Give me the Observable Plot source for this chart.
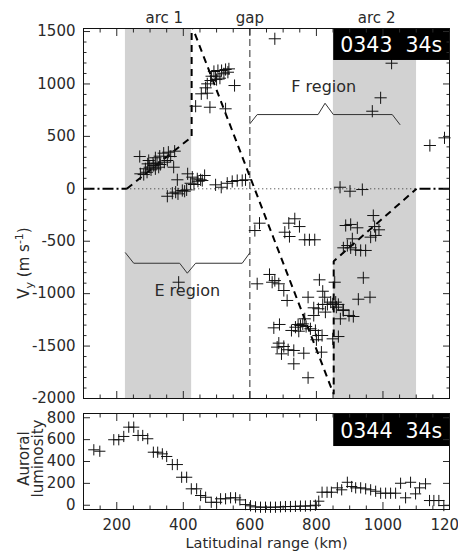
<!DOCTYPE html>
<html><head><meta charset="utf-8">
<script src="https://cdn.jsdelivr.net/npm/d3@7"></script>
<script src="https://cdn.jsdelivr.net/npm/@observablehq/plot@0.6"></script>
<style>
body{margin:0;background:#fff;}
#chart{width:458px;height:557px;position:relative;overflow:hidden;background:#fff}
#chart svg{display:block}
</style></head><body><div id="chart"></div>
<script>
// ---------- data ----------
// Top panel: ion drift velocity Vy (m/s) versus latitudinal range (km)
const velKm = [
  269,296,316,329,341,355,374,286,299,311,321,331,343,352,362,271,281,291,303,316,326,371,382,309,293,
  352,367,384,397,404,410,377,
  413,427,442,452,464,422,432,444,457,497,514,532,547,562,577,587,
  492,504,515,527,537,485,497,510,522,534,482,500,472,467,554,454,472,437,480,527,
  386,
  675,1026,993,968,1141,1185,871,901,938,971,
  615,629,717,735,749,705,719,765,779,795,622,659,667,675,687,702,712,809,775,819,825,792,806,819,833,843,849,858,866,827,792,855,880,872,765,672,689,725,737,745,752,747,759,769,782,797,806,800,817,849,866,687,682,702,715,695,732,762,815,732,775,
  888,903,923,988,975,908,963,978,881,893,903,918,933,948,941,961,926,860,881,898,911
];
const velMs = [
  308,270,296,311,340,349,359,191,206,222,244,232,254,270,308,143,136,158,181,191,206,206,86,244,238,
  -71,-42,-48,-16,-23,-10,-32,
  143,111,95,86,127,53,41,72,79,38,15,53,70,79,79,86,
  1119,1128,1128,1138,1144,1074,1074,1055,1097,1112,1033,1042,1001,963,985,906,912,788,778,763,
  -891,
  1431,1198,868,740,413,486,15,-23,-7,-255,
  -398,-328,-328,-286,-360,-414,-455,-486,-486,-486,-906,-817,-891,-875,-906,-970,-1065,-868,-1034,-977,-1034,-1135,-1144,-1103,-1103,-1081,-1097,-1081,-1103,-1176,-1208,-891,-1154,-1240,-1240,-1326,-1294,-1351,-1320,-1294,-1304,-1358,-1288,-1313,-1335,-1351,-1399,-1440,-1399,-1431,-1409,-1472,-1510,-1504,-1535,-1574,-1542,-1568,-1558,-1669,-1802,
  -350,-340,-372,-391,-360,-477,-461,-445,-563,-541,-563,-582,-588,-588,-849,-1034,-1053,-1129,-1161,-1208,-1218
];
// Bottom panel: auroral luminosity
const lumKm = [131,149,191,206,221,236,251,264,278,293,310,323,337,350,367,382,395,410,424,440,452,467,484,500,512,527,542,557,570,587,602,617,632,647,662,677,692,707,722,737,752,767,782,797,807,817,832,845,863,876,893,906,918,933,948,963,978,993,1008,1023,1038,1053,1068,1083,1098,1110,1128,1140,1153,1168,1183];
const lumVal = [507,494,599,599,629,714,714,638,638,608,485,485,470,446,372,372,256,256,150,150,89,73,27,27,59,59,68,68,49,6,-5,-15,-18,-18,-18,-18,-15,-12,-12,-10,-8,-8,-5,0,37,119,119,119,159,141,210,171,159,159,150,141,128,110,110,110,110,201,68,210,104,159,196,43,43,43,-3];

// arcs (shaded) and gap
const arcStartKm = [226, 851];
const arcEndKm = [425, 1101];
const gapKm = [600];
const topLabels = ["arc 1", "gap", "arc 2"];
const topLabelKm = [343, 600, 981];

// model velocity profile (dashed)
const modelKm = [100, 230, 425, 425, 852, 852, 1101, 1200];
const modelMs = [0, 0, 495, 1560, -1960, -690, 0, 0];

// region brackets
const eBracketKm = [226, 251, 389, 412, 437, 577, 600];
const eBracketMs = [-610, -710, -710, -805, -710, -710, -610];
const fBracketKm = [600, 622, 805, 826, 851, 1028, 1051];
const fBracketMs = [620, 708, 708, 816, 708, 708, 613];
const regionLabels = ["E region", "F region"];
const regionKm = [412, 822];
const regionMs = [-970, 969];

// time stamps
const stampText = ["0343  34s", "0344  34s"];
const stampKm = [852, 1200];
const stampTextKm = 1025;
const stampTopMs = [1224, 1529]; const stampTopTextMs = 1370;
const stampBotLum = [537, 839]; const stampBotTextLum = 676;

// axes
const xDomain = [100, 1200];
const vDomain = [-2000, 1529];
const lDomain = [-39, 839];
const majorX = [200, 400, 600, 800, 1000, 1200];
const minorX = d3.range(100, 1201, 50).filter(v => v % 200 !== 0);
const majorV = [-2000, -1500, -1000, -500, 0, 500, 1000, 1500];
const minorV = d3.range(-2000, 1501, 100).filter(v => v % 500 !== 0);
const majorL = [0, 200, 400, 600, 800];

// ---------- drawing ----------
const FONT = "'DejaVu Sans', sans-serif";
const INK = "#2a2a2a";
const fmt = d => (d < 0 ? "-" : "") + Math.abs(d);
const blank = () => "";
function tk(k, anchor, values, size, labelled, pad) {
  const axis = k === "x" ? Plot.axisX : Plot.axisY;
  return axis({anchor, ticks: values, tickSize: -size, tickPadding: pad || 0,
    tickFormat: labelled ? fmt : blank, label: null, stroke: INK, fill: INK, fontSize: 15});
}
const vi = d3.range(velKm.length);
const li = d3.range(lumKm.length);
const dashed = {stroke: "#000", strokeWidth: 2, strokeLinecap: "butt", strokeLinejoin: "miter"};

const topPlot = Plot.plot({
  width: 458, height: 400, marginLeft: 83, marginRight: 9, marginTop: 28, marginBottom: 2,
  style: {fontFamily: FONT, fontSize: "15px", color: INK, background: "white", overflow: "visible"},
  x: {domain: xDomain}, y: {domain: vDomain},
  marks: [
    Plot.rect(d3.range(arcStartKm.length), {x1: i => arcStartKm[i], x2: i => arcEndKm[i], fill: "#d2d2d2"}),
    Plot.ruleX(gapKm, {stroke: INK, strokeWidth: 1, strokeDasharray: "7,4"}),
    Plot.ruleY([0], {x1: modelKm[1], x2: modelKm[6], stroke: INK, strokeWidth: 1, strokeDasharray: "1,3"}),
    Plot.line([0, 1], {x: i => modelKm[i], y: i => modelMs[i], ...dashed, strokeDasharray: "11,3,2,3"}),
    Plot.line([7, 6], {x: i => modelKm[i], y: i => modelMs[i], ...dashed, strokeDasharray: "11,3,2,3"}),
    Plot.line([1, 2, 3, 4, 5, 6], {x: i => modelKm[i], y: i => modelMs[i], ...dashed, strokeDasharray: "7,5", clip: true}),
    Plot.line(d3.range(eBracketKm.length), {x: i => eBracketKm[i], y: i => eBracketMs[i], stroke: "#333", strokeWidth: 1}),
    Plot.line(d3.range(fBracketKm.length), {x: i => fBracketKm[i], y: i => fBracketMs[i], stroke: "#333", strokeWidth: 1}),
    Plot.text(regionLabels, {x: (d, i) => regionKm[i], y: (d, i) => regionMs[i], fontSize: 16, fill: INK}),
    Plot.dot(vi, {x: i => velKm[i], y: i => velMs[i], symbol: "plus", r: 4, stroke: "#111", strokeWidth: 1}),
    Plot.rect([0], {x1: stampKm[0], x2: stampKm[1], y1: stampTopMs[0], y2: stampTopMs[1], fill: "#000"}),
    Plot.text([stampText[0]], {x: stampTextKm, y: stampTopTextMs, fill: "white", fontSize: 20.5}),
    Plot.text(topLabels, {x: (d, i) => topLabelKm[i], frameAnchor: "top", dy: -16, fontSize: 15, fill: INK}),
    tk("y", "left", majorV, 7, true, 15),
    tk("y", "left", minorV, 3.5, false),
    tk("y", "right", majorV, 7, false),
    tk("y", "right", minorV, 3.5, false),
    tk("x", "top", majorX, 7, false),
    tk("x", "top", minorX, 3.5, false),
    tk("x", "bottom", majorX, 7, false),
    tk("x", "bottom", minorX, 3.5, false),
    Plot.frame({stroke: "#111"})
  ]
});

const botPlot = Plot.plot({
  width: 458, height: 157, marginLeft: 83, marginRight: 9, marginTop: 13, marginBottom: 48,
  style: {fontFamily: FONT, fontSize: "15px", color: INK, background: "white", overflow: "visible"},
  x: {domain: xDomain}, y: {domain: lDomain},
  marks: [
    Plot.dot(li, {x: i => lumKm[i], y: i => lumVal[i], symbol: "plus", r: 3.7, stroke: "#111", strokeWidth: 1}),
    Plot.rect([0], {x1: stampKm[0], x2: stampKm[1], y1: stampBotLum[0], y2: stampBotLum[1], fill: "#000"}),
    Plot.text([stampText[1]], {x: stampTextKm, y: stampBotTextLum, fill: "white", fontSize: 20.5}),
    tk("y", "left", majorL, 7, true, 15),
    tk("y", "right", majorL, 7, false),
    tk("x", "top", majorX, 7, false),
    tk("x", "top", minorX, 3.5, false),
    tk("x", "bottom", majorX, 7, true, 17),
    tk("x", "bottom", minorX, 3.5, false),
    Plot.text(["Latitudinal range (km)"], {frameAnchor: "bottom", dy: 38.5, fontSize: 14.5, fill: INK}),
    Plot.text(["Auroral\nluminosity"], {frameAnchor: "left", textAnchor: "middle", lineAnchor: "middle", dx: -52, dy: -3, rotate: -90, fontSize: 15, lineHeight: 0.9, fill: INK}),
    Plot.frame({stroke: "#111"})
  ]
});

const chart = document.getElementById("chart");
chart.appendChild(topPlot);
chart.appendChild(botPlot);

// y-axis title of the top panel, with subscript and superscript
const t = d3.select(topPlot).append("text")
  .attr("transform", "translate(29,263) rotate(-90)")
  .attr("text-anchor", "middle").attr("fill", INK)
  .style("font-family", FONT).style("font-size", "15px");
t.append("tspan").text("V");
t.append("tspan").attr("font-size", 11).attr("dy", 4).text("y");
t.append("tspan").attr("dy", -4).text(" (m s");
t.append("tspan").attr("font-size", 11).attr("dy", -6).text("-1");
t.append("tspan").attr("dy", 6).text(")");
</script></body></html>
